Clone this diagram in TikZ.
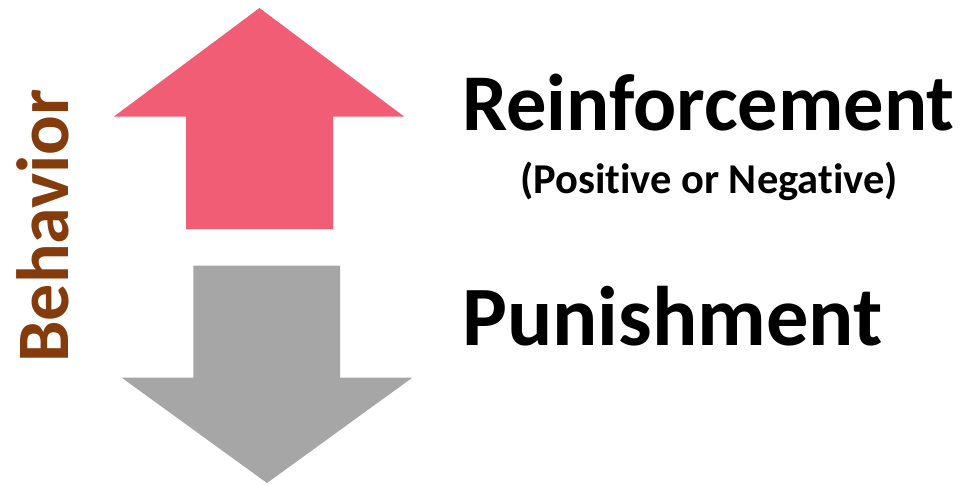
\documentclass[tikz,border=0pt]{standalone}
\usepackage{fontspec}
\setmainfont[Ligatures={NoCommon}]{Carlito}
\definecolor{upred}{HTML}{F05D75}
\definecolor{downgray}{HTML}{A6A6A6}
\definecolor{behbrown}{HTML}{843C0C}
\begin{document}
\begin{tikzpicture}[x=1pt,y=-1pt,
  lbl/.style={inner sep=0pt,anchor=base,font=\bfseries}]
\useasboundingbox (0,0) rectangle (961,485);
% up arrow
\fill[upred] (259.5,8) -- (404,116.5) -- (333,116.5) -- (333,229) -- (186,229) -- (186,116.5) -- (114,116.5) -- cycle;
% down arrow
\fill[downgray] (193.3,265.7) -- (340,265.7) -- (340,377.7) -- (412.3,377.7) -- (267,483) -- (121.7,377.7) -- (193.3,377.7) -- cycle;
\node[lbl,font=\fontsize{80.5}{81}\selectfont\bfseries] (reinf) at (708.5,130) {Reinforcement};
\node[lbl,font=\fontsize{42.5}{43}\selectfont\bfseries] (posneg) at (709,193) {(Posit\kern0pt ive or Negat\kern0pt ive)};
\node[lbl,font=\fontsize{84.5}{85}\selectfont\bfseries] (pun) at (672.5,345) {Punishment};
\node[lbl,rotate=90,text=behbrown,font=\fontsize{74}{75}\selectfont\bfseries] (beh) at (68,226) {Behavior};
\end{tikzpicture}
\end{document}
